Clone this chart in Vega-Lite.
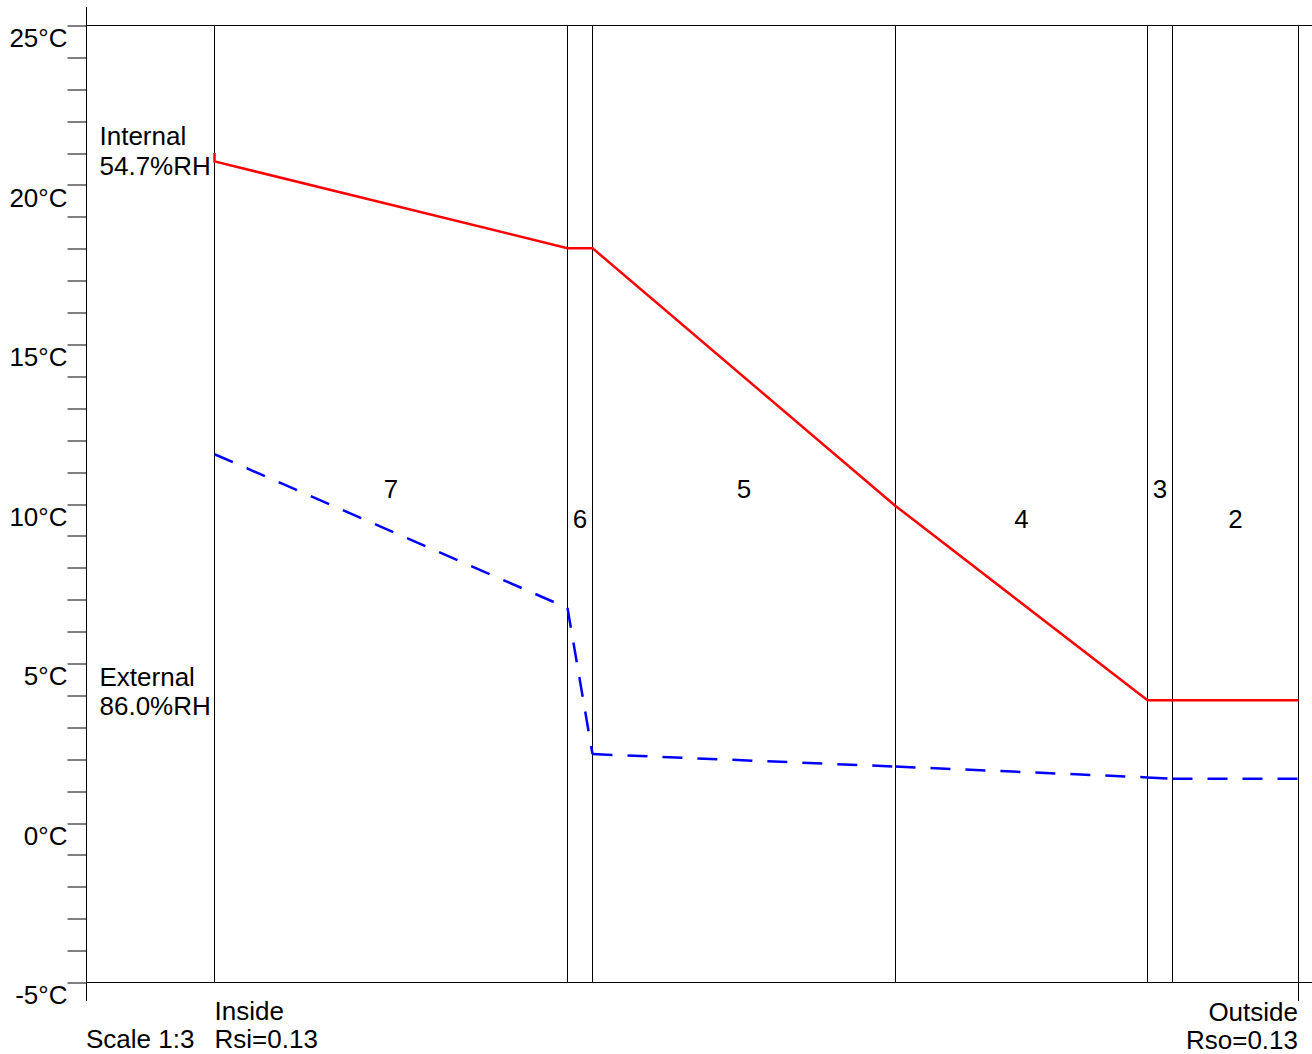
{
  "$schema": "https://vega.github.io/schema/vega-lite/v6.json",
  "width": 1226,
  "height": 957,
  "autosize": {"type": "none"},
  "padding": {"left": 86, "top": 25.5, "right": 0, "bottom": 71.5},
  "background": "#ffffff",
  "config": {
    "view": {"stroke": null},
    "font": "Liberation Sans",
    "text": {"font": "Liberation Sans", "fontSize": 26, "color": "#000000"},
    "axisY": {
      "values": [-5,-4,-3,-2,-1,0,1,2,3,4,5,6,7,8,9,10,11,12,13,14,15,16,17,18,19,20,21,22,23,24,25],
      "labelExpr": "datum.value % 5 === 0 ? datum.value + '°C' : ''",
      "domain": false,
      "grid": false,
      "ticks": true,
      "tickSize": 19,
      "tickColor": "#000000",
      "tickWidth": 1,
      "labelFont": "Liberation Sans",
      "labelFontSize": 26,
      "labelColor": "#000000",
      "labelPadding": 0,
      "labelBaseline": "alphabetic",
      "labelOffset": 21,
      "labelFlush": false,
      "labelOverlap": false,
      "labelBound": false,
      "title": null
    }
  },
  "datasets": {
    "temperature": [
      {"seq": 1, "x": 0, "t": 21.0},
      {"seq": 2, "x": 0, "t": 20.74},
      {"seq": 3, "x": 176.5, "t": 18.02},
      {"seq": 4, "x": 189, "t": 18.02},
      {"seq": 5, "x": 340.5, "t": 9.94},
      {"seq": 6, "x": 466.5, "t": 3.85},
      {"seq": 7, "x": 479, "t": 3.85},
      {"seq": 8, "x": 542, "t": 3.85}
    ],
    "dewpoint": [
      {"x": 0, "t": 11.56, "x2": 176.5, "t2": 6.74},
      {"x": 176.5, "t": 6.74, "x2": 189, "t2": 2.16},
      {"x": 189, "t": 2.16, "x2": 340.5, "t2": 1.77},
      {"x": 340.5, "t": 1.77, "x2": 466.5, "t2": 1.43},
      {"x": 466.5, "t": 1.43, "x2": 479, "t2": 1.39},
      {"x": 479, "t": 1.39, "x2": 542, "t2": 1.39}
    ],
    "boundaries": [
      {"x": 0, "top": 25, "bottom": -5},
      {"x": 176.5, "top": 25, "bottom": -5},
      {"x": 189, "top": 25, "bottom": -5},
      {"x": 340.5, "top": 25, "bottom": -5},
      {"x": 466.5, "top": 25, "bottom": -5},
      {"x": 479, "top": 25, "bottom": -5},
      {"x": 542, "top": 25, "bottom": -5.58}
    ],
    "frame": [{"x": -64, "top": 25.58, "bottom": -5.58}],
    "limits": [{"t": 25}, {"t": -5}],
    "layerLabels": [
      {"layer": "7", "x": 88.25, "t": 10.19},
      {"layer": "6", "x": 182.75, "t": 9.25},
      {"layer": "5", "x": 264.75, "t": 10.19},
      {"layer": "4", "x": 403.5, "t": 9.25},
      {"layer": "3", "x": 472.75, "t": 10.19},
      {"layer": "2", "x": 510.5, "t": 9.25}
    ],
    "notesLeft": [
      {"label": "Internal", "x": -57.5, "t": 21.25},
      {"label": "54.7%RH", "x": -57.5, "t": 20.31},
      {"label": "External", "x": -57.5, "t": 4.29},
      {"label": "86.0%RH", "x": -57.5, "t": 3.39},
      {"label": "Inside", "x": 0, "t": -6.18},
      {"label": "Rsi=0.13", "x": 0, "t": -7.05},
      {"label": "Scale 1:3", "x": -64.25, "t": -7.05}
    ],
    "notesRight": [
      {"label": "Outside", "x": 541.75, "t": -6.22},
      {"label": "Rso=0.13", "x": 541.75, "t": -7.08}
    ]
  },
  "layer": [
    {
      "data": {"name": "limits"},
      "mark": {"type": "rule", "color": "#000000", "strokeWidth": 1},
      "encoding": {
        "y": {"field": "t", "type": "quantitative", "scale": {"domain": [-5, 25], "nice": false, "zero": false}}
      }
    },
    {
      "data": {"name": "boundaries"},
      "mark": {"type": "rule", "color": "#000000", "strokeWidth": 1},
      "encoding": {
        "x": {"field": "x", "type": "quantitative", "scale": {"domain": [-64.25, 548.75], "nice": false, "zero": false}, "axis": null},
        "y": {"field": "top", "type": "quantitative", "scale": {"domain": [-5, 25], "nice": false, "zero": false}},
        "y2": {"field": "bottom"}
      }
    },
    {
      "data": {"name": "frame"},
      "mark": {"type": "rule", "color": "#000000", "strokeWidth": 1},
      "encoding": {
        "x": {"field": "x", "type": "quantitative", "scale": {"domain": [-64.25, 548.75], "nice": false, "zero": false}, "axis": null},
        "y": {"field": "top", "type": "quantitative", "scale": {"domain": [-5, 25], "nice": false, "zero": false}},
        "y2": {"field": "bottom"}
      }
    },
    {
      "data": {"name": "temperature"},
      "mark": {"type": "line", "color": "#ff0000", "strokeWidth": 2.5, "clip": false},
      "encoding": {
        "x": {"field": "x", "type": "quantitative", "scale": {"domain": [-64.25, 548.75], "nice": false, "zero": false}, "axis": null},
        "y": {"field": "t", "type": "quantitative", "scale": {"domain": [-5, 25], "nice": false, "zero": false}},
        "order": {"field": "seq", "type": "quantitative"}
      }
    },
    {
      "data": {"name": "dewpoint"},
      "mark": {"type": "rule", "color": "#0000ff", "strokeWidth": 2.5, "strokeDash": [20, 15]},
      "encoding": {
        "x": {"field": "x", "type": "quantitative", "scale": {"domain": [-64.25, 548.75], "nice": false, "zero": false}, "axis": null},
        "y": {"field": "t", "type": "quantitative", "scale": {"domain": [-5, 25], "nice": false, "zero": false}},
        "x2": {"field": "x2"},
        "y2": {"field": "t2"}
      }
    },
    {
      "data": {"name": "layerLabels"},
      "mark": {"type": "text", "align": "center", "baseline": "alphabetic", "fontSize": 26, "font": "Liberation Sans", "color": "#000000"},
      "encoding": {
        "x": {"field": "x", "type": "quantitative", "scale": {"domain": [-64.25, 548.75], "nice": false, "zero": false}, "axis": null},
        "y": {"field": "t", "type": "quantitative", "scale": {"domain": [-5, 25], "nice": false, "zero": false}},
        "text": {"field": "layer", "type": "nominal"}
      }
    },
    {
      "data": {"name": "notesLeft"},
      "mark": {"type": "text", "align": "left", "baseline": "alphabetic", "fontSize": 26, "font": "Liberation Sans", "color": "#000000"},
      "encoding": {
        "x": {"field": "x", "type": "quantitative", "scale": {"domain": [-64.25, 548.75], "nice": false, "zero": false}, "axis": null},
        "y": {"field": "t", "type": "quantitative", "scale": {"domain": [-5, 25], "nice": false, "zero": false}},
        "text": {"field": "label", "type": "nominal"}
      }
    },
    {
      "data": {"name": "notesRight"},
      "mark": {"type": "text", "align": "right", "baseline": "alphabetic", "fontSize": 26, "font": "Liberation Sans", "color": "#000000"},
      "encoding": {
        "x": {"field": "x", "type": "quantitative", "scale": {"domain": [-64.25, 548.75], "nice": false, "zero": false}, "axis": null},
        "y": {"field": "t", "type": "quantitative", "scale": {"domain": [-5, 25], "nice": false, "zero": false}},
        "text": {"field": "label", "type": "nominal"}
      }
    }
  ]
}
